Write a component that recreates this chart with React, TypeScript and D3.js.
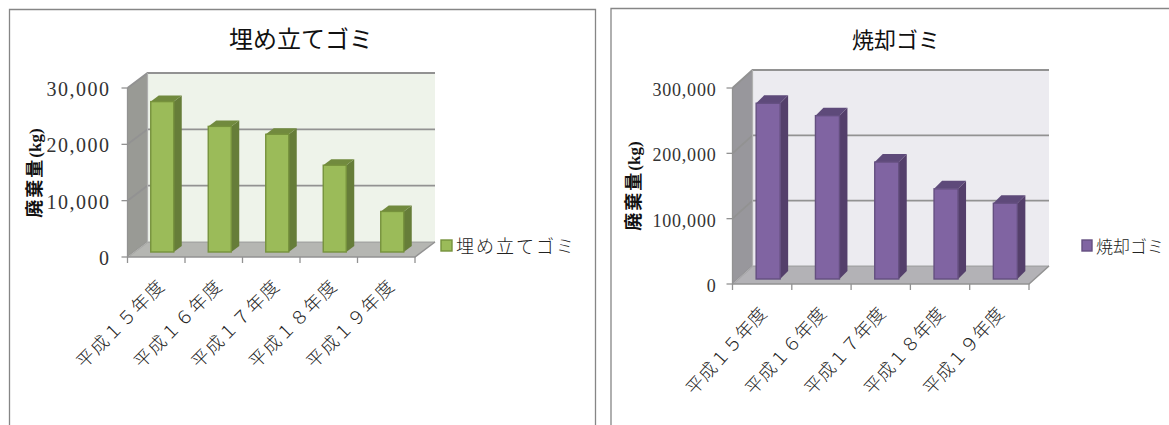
import React from "react";
import * as d3 from "d3";

const categories = ["平成１５年度", "平成１６年度", "平成１７年度", "平成１８年度", "平成１９年度"];
const landfillValues = [26700, 22300, 20900, 15400, 7200];
const incinerationValues = [269000, 250000, 179000, 138000, 116000];
const landfillTicks = [0, 10000, 20000, 30000];
const incinerationTicks = [0, 100000, 200000, 300000];

const SERIF = "'Liberation Serif','Noto Sans CJK JP',serif";
const fmt = d3.format(",");

type Palette = { wall: string; back: string; floor: string; front: string; edge: string; side: string; top: string };

type PanelProps = {
  title: string;
  titleX: number;
  titleSize: number;
  values: number[];
  ticks: number[];
  frame: { x0: number; y0: number; x1: number; y1: number };
  x0: number;
  x1: number;
  y0: number;
  yTop: number;
  depthX: number;
  depthY: number;
  barW: number;
  barDy: number;
  tickSize: number;
  tickGap: number;
  tickSpacing: number;
  axisTitleX: number;
  axisTitleY: number;
  catSize: number;
  catSpacing: number;
  catDx: number;
  catDy: number;
  catAngle: number;
  legendX: number;
  legendY: number;
  legendW: number;
  legendSize: number;
  legendGap: number;
  colors: Palette;
};

function Panel(p: PanelProps) {
  const x = d3.scaleBand<string>().domain(categories).range([p.x0, p.x1]);
  const y = d3.scaleLinear().domain([0, p.ticks[p.ticks.length - 1]]).range([p.y0, p.yTop]);
  const { depthX: dx, depthY: dy, colors: c, barDy } = p;
  const pts = (a: number[][]) => a.map((q) => q.join(",")).join(" ");
  const top = y.range()[1];
  // Bars stand slightly behind the front edge of the floor
  const barLift = 5;
  const barDx = 8;

  return (
    <g>
      <path
        d={`M${p.frame.x0},${p.frame.y1}V${p.frame.y0}H${p.frame.x1}V${p.frame.y1}`}
        fill="#fff"
        stroke="#868686"
        strokeWidth={1.3}
      />
      <text x={p.titleX} y={48} textAnchor="middle" fontFamily={SERIF} fontSize={p.titleSize} fill="#111">
        {p.title}
      </text>

      {/* walls and floor */}
      <polygon points={pts([[p.x0 + dx, top - dy], [p.x1 + dx, top - dy], [p.x1 + dx, p.y0 - dy], [p.x0 + dx, p.y0 - dy]])} fill={c.back} />
      <polygon points={pts([[p.x0, top], [p.x0 + dx, top - dy], [p.x0 + dx, p.y0 - dy], [p.x0, p.y0]])} fill={c.wall} />
      <polygon points={pts([[p.x0, p.y0], [p.x0 + dx, p.y0 - dy], [p.x1 + dx, p.y0 - dy], [p.x1, p.y0]])} fill={c.floor} />

      {/* gridlines wrap from the side wall onto the back wall */}
      {p.ticks.map((t) => (
        <polyline
          key={t}
          points={pts([[p.x0, y(t)], [p.x0 + dx, y(t) - dy], [p.x1 + dx, y(t) - dy]])}
          fill="none"
          stroke="#929292"
          strokeWidth={1.9}
          opacity={t === 0 ? 0.4 : 1}
        />
      ))}
      <line x1={p.x0 + dx} x2={p.x0 + dx} y1={top - dy} y2={p.y0 - dy} stroke="#b0b0b0" strokeWidth={1.2} />
      <polyline points={pts([[p.x0, p.y0], [p.x1, p.y0], [p.x1 + dx, p.y0 - dy]])} fill="none" stroke="#929292" strokeWidth={1.5} />
      <line x1={p.x0} x2={p.x0} y1={top} y2={p.y0} stroke="#929292" strokeWidth={1.3} />

      {/* bars */}
      {p.values.map((v, i) => {
        const bx = x(categories[i])! + (x.bandwidth() - p.barW) / 2 + 6;
        const by = y(v) - barLift;
        const base = p.y0 - barLift;
        return (
          <g key={categories[i]}>
            <polygon points={pts([[bx + p.barW, by], [bx + p.barW + barDx, by - barDy], [bx + p.barW + barDx, base - barDy], [bx + p.barW, base]])} fill={c.side} />
            <polygon points={pts([[bx, by], [bx + barDx, by - barDy], [bx + p.barW + barDx, by - barDy], [bx + p.barW, by]])} fill={c.top} />
            <rect x={bx} y={by} width={p.barW} height={base - by} fill={c.front} stroke={c.edge} strokeWidth={1.4} />
          </g>
        );
      })}

      {/* value axis */}
      {p.ticks.map((t) => (
        <g key={t}>
          <line x1={p.x0 - 6} x2={p.x0} y1={y(t)} y2={y(t)} stroke="#929292" strokeWidth={1.3} />
          <text
            x={p.x0 - p.tickGap}
            y={y(t) + 8}
            textAnchor="end"
            fontFamily={SERIF}
            fontSize={p.tickSize}
            letterSpacing={p.tickSpacing}
            fill="#333"
          >
            {fmt(t)}
          </text>
        </g>
      ))}
      <text
        transform={`translate(${p.axisTitleX},${p.axisTitleY}) rotate(-90)`}
        textAnchor="middle"
        fontFamily={SERIF}
        fontWeight={700}
        fill="#111"
      >
        <tspan fontSize={18} letterSpacing={2}>廃棄量</tspan>
        <tspan fontSize={17}>(kg)</tspan>
      </text>

      {/* category axis */}
      {[...categories.map((k) => x(k)!), p.x1].map((tx) => (
        <line key={tx} x1={tx} x2={tx} y1={p.y0} y2={p.y0 + 6} stroke="#929292" strokeWidth={1.3} />
      ))}
      <g opacity={0.99}>
        {categories.map((k) => {
          const cx = x(k)! + x.bandwidth() / 2;
          return (
            <text
              key={k}
              transform={`translate(${cx + p.catDx},${p.y0 + p.catDy}) rotate(${-p.catAngle})`}
              textAnchor="end"
              fontFamily={SERIF}
              fontSize={p.catSize}
              fontWeight={300}
              letterSpacing={p.catSpacing}
              fill="#222"
            >
              {k}
            </text>
          );
        })}
      </g>

      {/* legend */}
      <rect x={p.legendX} y={p.legendY} width={p.legendW} height={11} fill={c.front} stroke={c.edge} strokeWidth={1.4} />
      <text
        x={p.legendX + p.legendW + 4}
        y={p.legendY + 13}
        fontFamily={SERIF}
        fontSize={p.legendSize}
        fontWeight={300}
        letterSpacing={p.legendGap}
        fill="#222"
      >
        {p.title}
      </text>
    </g>
  );
}

export default function App() {
  return (
    <svg width={1169} height={425} style={{ position: "absolute", left: 0, top: 0 }}>
      <rect width={1169} height={425} fill="#fff" />
      <Panel
        title="埋め立てゴミ"
        titleX={301}
        titleSize={24}
        values={landfillValues}
        ticks={landfillTicks}
        frame={{ x0: 9.5, y0: 9.5, x1: 595.5, y1: 426 }}
        x0={127.5}
        x1={415}
        y0={257}
        yTop={88}
        depthX={20}
        depthY={15}
        barW={23}
        barDy={6}
        tickSize={20}
        tickGap={17}
        tickSpacing={1.5}
        axisTitleX={41}
        axisTitleY={173}
        catSize={18}
        catSpacing={1.4}
        catDx={10}
        catDy={30}
        catAngle={45}
        legendX={441}
        legendY={240}
        legendW={11}
        legendSize={18}
        legendGap={2}
        colors={{ wall: "#999a95", back: "#eef3ea", floor: "#b5b6b2", front: "#9bbb59", edge: "#76923c", side: "#667d39", top: "#718a3e" }}
      />
      <Panel
        title="焼却ゴミ"
        titleX={896}
        titleSize={22}
        values={incinerationValues}
        ticks={incinerationTicks}
        frame={{ x0: 611, y0: 8.5, x1: 1175, y1: 426 }}
        x0={732.5}
        x1={1029}
        y0={284}
        yTop={88}
        depthX={20}
        depthY={18}
        barW={24}
        barDy={8}
        tickSize={18}
        tickGap={16}
        tickSpacing={0.8}
        axisTitleX={640}
        axisTitleY={186}
        catSize={18}
        catSpacing={0.4}
        catDx={6}
        catDy={30}
        catAngle={48}
        legendX={1082}
        legendY={240}
        legendW={10}
        legendSize={17}
        legendGap={0}
        colors={{ wall: "#98979c", back: "#ecebf0", floor: "#b3b2b6", front: "#8064a2", edge: "#644f80", side: "#543f6b", top: "#5e4a7a" }}
      />
    </svg>
  );
}
